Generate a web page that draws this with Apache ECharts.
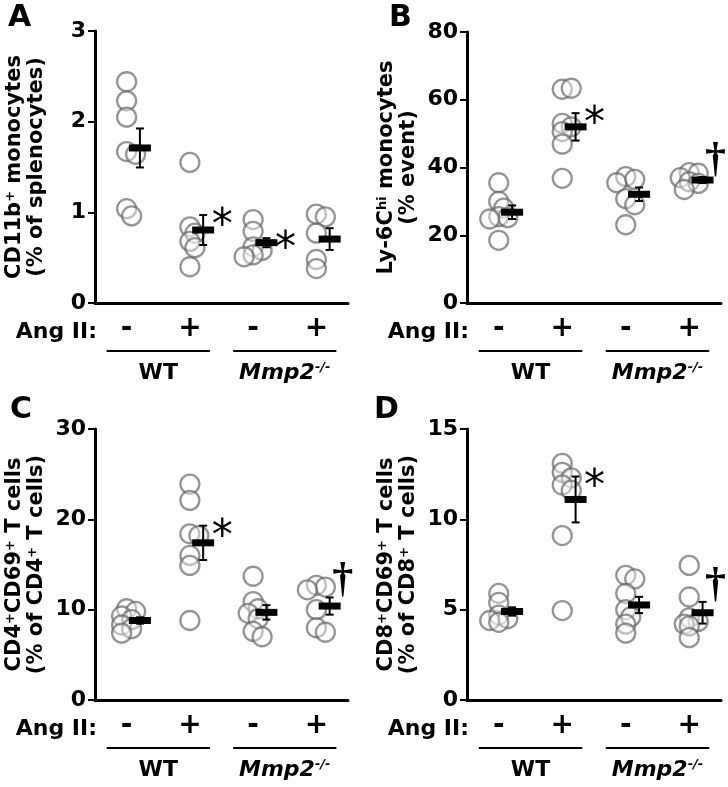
<!DOCTYPE html>
<html>
<head>
<meta charset="utf-8">
<script src="https://cdn.jsdelivr.net/npm/echarts/dist/echarts.min.js"></script>
<style>html,body{margin:0;padding:0;background:#fff}</style>
</head>
<body>
<div id="chart" style="width:728px;height:787px"></div>
<script>
// ---------------- data ----------------
const angIILabels = ['-', '+', '-', '+'];
const genotypeLabels = ['WT', 'Mmp2'];

// Panel A: CD11b+ monocytes (% of splenocytes)
const cd11bPoints = [
  [2.44, 2.23, 2.05, 1.67, 1.64, 1.04, 0.96],
  [1.55, 0.84, 0.77, 0.68, 0.61, 0.40],
  [0.92, 0.79, 0.62, 0.58, 0.53, 0.51],
  [0.98, 0.95, 0.77, 0.48, 0.38]
];
const cd11bMean = [1.71, 0.805, 0.665, 0.705];
const cd11bSem = [0.215, 0.165, 0.05, 0.12];
const cd11bSig = ['', '*', '*', ''];

// Panel B: Ly-6Chi monocytes (% event)
const ly6cPoints = [
  [35.5, 30.0, 28.0, 25.5, 25.2, 24.8, 18.5],
  [63.1, 63.4, 53.0, 52.0, 50.6, 46.9, 36.8],
  [37.3, 36.5, 35.5, 30.8, 29.0, 23.1],
  [38.5, 38.3, 37.0, 35.8, 35.3, 33.5]
];
const ly6cMean = [26.8, 52.0, 32.1, 36.3];
const ly6cSem = [2.0, 4.05, 2.0, 0.9];
const ly6cSig = ['', '*', '', '\u2020'];

// Panel C: CD4+CD69+ T cells (% of CD4+ T cells)
const cd4Points = [
  [10.1, 9.8, 9.3, 8.9, 8.3, 7.9, 7.4],
  [23.9, 22.1, 18.4, 18.2, 16.0, 14.9, 8.8],
  [13.7, 10.9, 10.1, 9.6, 9.0, 7.6, 7.0],
  [12.7, 12.5, 12.2, 10.0, 8.0, 7.5]
];
const cd4Mean = [8.8, 17.4, 9.7, 10.4];
const cd4Sem = [0.35, 1.9, 0.8, 0.95];
const cd4Sig = ['', '*', '', '\u2020'];

// Panel D: CD8+CD69+ T cells (% of CD8+ T cells)
const cd8Points = [
  [5.9, 5.4, 4.7, 4.5, 4.4, 4.3],
  [13.1, 12.6, 12.3, 11.9, 11.6, 9.1, 4.95],
  [6.9, 6.7, 5.9, 5.0, 4.6, 4.2, 3.7],
  [7.45, 5.7, 4.55, 4.35, 4.2, 4.1, 3.45]
];
const cd8Mean = [4.9, 11.1, 5.26, 4.83];
const cd8Sem = [0.23, 1.27, 0.45, 0.6];
const cd8Sig = ['', '*', '', '\u2020'];

const yMax = [3, 80, 30, 15];
const yInterval = [1, 20, 10, 5];

// ---------------- layout ----------------
const FONT = 'DejaVu Sans';
const panels = [
  { letter: 'A', lx: 8, ly: 3, grid: { left: 95, top: 31, width: 253, height: 272 },
    name: '{t|CD11b}{s|+}{t| monocytes}\n{t|(% of splenocytes)}',
    points: cd11bPoints, mean: cd11bMean, sem: cd11bSem, sig: cd11bSig },
  { letter: 'B', lx: 389, ly: 3, grid: { left: 467, top: 32, width: 254, height: 271 },
    name: '{t|Ly-6C}{s|hi}{t| monocytes}\n{t|(% event)}',
    points: ly6cPoints, mean: ly6cMean, sem: ly6cSem, sig: ly6cSig },
  { letter: 'C', lx: 10, ly: 395, grid: { left: 95, top: 429, width: 253, height: 271 },
    name: '{t|CD4}{s|+}{t|CD69}{s|+}{t| T cells}\n{t|(% of CD4}{s|+}{t| T cells)}',
    points: cd4Points, mean: cd4Mean, sem: cd4Sem, sig: cd4Sig },
  { letter: 'D', lx: 374, ly: 395, grid: { left: 467, top: 429, width: 254, height: 271 },
    name: '{t|CD8}{s|+}{t|CD69}{s|+}{t| T cells}\n{t|(% of CD8}{s|+}{t| T cells)}',
    points: cd8Points, mean: cd8Mean, sem: cd8Sem, sig: cd8Sig }
];

const MEAN_OFFSET = 0.21;   // mean bar offset to the right of the dots (category units)

// deterministic beeswarm offsets (pixels)
function swarm(vals, pxPerUnit) {
  const placed = [];
  const cands = [0, 5, -5, 9, -9, 12, -12];
  return vals.map(v => {
    const y = v * pxPerUnit;
    for (const dx of cands) {
      if (placed.every(p => Math.hypot(p.x - dx, p.y - y) >= 8)) {
        placed.push({ x: dx, y }); return dx;
      }
    }
    placed.push({ x: 0, y }); return 0;
  });
}

const chart = echarts.init(document.getElementById('chart'), null, { renderer: 'canvas' });

const grids = [], xAxes = [], yAxes = [], series = [];
panels.forEach((p, i) => {
  grids.push(Object.assign({ containLabel: false }, p.grid));
  xAxes.push({
    type: 'category', gridIndex: i, data: angIILabels,
    axisLine: { lineStyle: { color: '#000', width: 3 } },
    axisTick: { show: false },
    axisLabel: { color: '#000', fontFamily: FONT, fontWeight: 'bold', fontSize: 28, margin: 12 }
  });
  xAxes.push({ type: 'value', gridIndex: i, min: 0, max: 4, show: false });
  yAxes.push({
    type: 'value', gridIndex: i, min: 0, max: yMax[i], interval: yInterval[i],
    splitLine: { show: false },
    axisLine: { show: true, lineStyle: { color: '#000', width: 3 } },
    axisTick: { show: true, length: 7, lineStyle: { color: '#000', width: 2 } },
    axisLabel: { color: '#000', fontFamily: FONT, fontWeight: 'bold', fontSize: 22, margin: 9 },
    name: p.name, nameLocation: 'middle', nameRotate: 90, nameGap: 47,
    nameTextStyle: {
      rich: {
        t: { fontFamily: FONT, fontWeight: 'bold', fontSize: 21, color: '#000', lineHeight: 22 },
        s: { fontFamily: FONT, fontWeight: 'bold', fontSize: 13, color: '#000', lineHeight: 22, verticalAlign: 'top', padding: [0, 0, 9, 0] }
      }
    }
  });

  const band = p.grid.width / 4;
  const pxPerUnit = p.grid.height / yMax[i];
  const dots = [];
  p.points.forEach((vals, g) => {
    const offs = swarm(vals, pxPerUnit);
    vals.forEach((v, k) => dots.push([g + 0.5 + offs[k] / band, v]));
  });
  series.push({
    type: 'scatter', xAxisIndex: 2 * i + 1, yAxisIndex: i, data: dots,
    symbol: 'circle', symbolSize: 19, z: 2,
    itemStyle: { color: 'rgba(255,255,255,0.5)', borderColor: 'rgba(100,100,100,0.85)', borderWidth: 2.3 },
    emphasis: { disabled: true }
  });

  const stats = p.mean.map((m, g) => [g + 0.5 + MEAN_OFFSET, m, p.sem[g]]);
  const sig = p.sig;
  series.push({
    type: 'custom', xAxisIndex: 2 * i + 1, yAxisIndex: i, data: stats, z: 5, clip: false,
    renderItem: function (params, api) {
      const x = api.value(0), m = api.value(1), s = api.value(2);
      const c = api.coord([x, m]);
      const top = api.coord([x, m + s]);
      const bot = api.coord([x, m - s]);
      const cap = 4;
      const children = [
        { type: 'line', shape: { x1: c[0], y1: top[1], x2: c[0], y2: bot[1] }, style: { stroke: '#000', lineWidth: 2 } },
        { type: 'line', shape: { x1: c[0] - cap, y1: top[1], x2: c[0] + cap, y2: top[1] }, style: { stroke: '#000', lineWidth: 2 } },
        { type: 'line', shape: { x1: c[0] - cap, y1: bot[1], x2: c[0] + cap, y2: bot[1] }, style: { stroke: '#000', lineWidth: 2 } },
        { type: 'rect', shape: { x: c[0] - 11, y: c[1] - 3.5, width: 22, height: 7 }, style: { fill: '#000' } }
      ];
      const t = sig[params.dataIndex];
      if (t === '*') {
        children.push({ type: 'text', x: c[0] + 19, y: top[1] + 12,
          style: { text: '*', font: 'normal 42px "DejaVu Sans"', fill: '#000', textAlign: 'center', textVerticalAlign: 'middle' } });
      } else if (t) {
        children.push({ type: 'text', x: c[0] + 13, y: top[1] - 17,
          style: { text: t, font: 'bold 42px "Liberation Serif"', fill: '#000', textAlign: 'center', textVerticalAlign: 'middle' } });
      }
      return { type: 'group', children };
    }
  });
});

chart.setOption({
  animation: false,
  backgroundColor: '#fff',
  grid: grids, xAxis: xAxes, yAxis: yAxes, series: series
});

// annotation row below each x axis (Ang II:, group underlines, genotype labels)
const graphic = [];
panels.forEach((p, i) => {
  const xi = 2 * i + 1;
  const cx = [0, 1, 2, 3].map(g => chart.convertToPixel({ xAxisIndex: xi }, g + 0.5));
  const base = p.grid.top + p.grid.height;
  graphic.push({ type: 'text', x: p.lx, y: p.ly,
    style: { text: p.letter, font: 'bold 30px "DejaVu Sans"', fill: '#000' } });
  graphic.push({ type: 'text', x: p.grid.left + 2, y: base + 29,
    style: { text: 'Ang II:', font: 'bold 22px "DejaVu Sans"', fill: '#000', textAlign: 'right', textVerticalAlign: 'middle' } });
  [[0, 1], [2, 3]].forEach((pair, k) => {
    const x1 = cx[pair[0]] - 20, x2 = cx[pair[1]] + 20;
    graphic.push({ type: 'line', shape: { x1, y1: base + 48, x2, y2: base + 48 }, style: { stroke: '#000', lineWidth: 2 } });
    const mid = (x1 + x2) / 2;
    if (k === 0) {
      graphic.push({ type: 'text', x: mid, y: base + 70,
        style: { text: genotypeLabels[0], font: 'bold 22px "DejaVu Sans"', fill: '#000', textAlign: 'center', textVerticalAlign: 'middle' } });
    } else {
      graphic.push({ type: 'text', x: mid, y: base + 70,
        style: {
          text: '{g|' + genotypeLabels[1] + '}{s|-/-}',
          rich: {
            g: { fontFamily: FONT, fontStyle: 'italic', fontWeight: 'bold', fontSize: 22, fill: '#000', lineHeight: 24 },
            s: { fontFamily: FONT, fontStyle: 'italic', fontWeight: 'bold', fontSize: 13, fill: '#000', lineHeight: 24, verticalAlign: 'top', padding: [0, 0, 10, 0] }
          },
          textAlign: 'center', textVerticalAlign: 'middle'
        } });
    }
  });
});
chart.setOption({ graphic: graphic });
</script>
</body>
</html>
